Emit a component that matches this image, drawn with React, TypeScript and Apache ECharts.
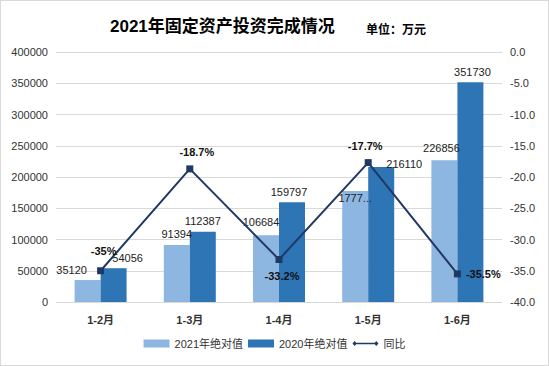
import React, { useEffect, useRef } from "react";
import * as echarts from "echarts";

const categories = ["1-2月", "1-3月", "1-4月", "1-5月", "1-6月"];
const values2021 = [35120, 91394, 106684, 177735, 226856];
const values2020 = [54056, 112387, 159797, 216110, 351730];
const yoy = [-35, -18.7, -33.2, -17.7, -35.5];
const yoyLabels = ["-35%", "-18.7%", "-33.2%", "-17.7%", "-35.5%"];
const leftTicks = [0, 400000, 50000];
const rightTicks = [-40, 0, 5];

const FONT = "'Liberation Sans', 'Noto Sans CJK SC', sans-serif";

export default function App() {
  const ref = useRef<HTMLDivElement>(null);
  useEffect(() => {
    if (!ref.current) return;
    const chart = echarts.init(ref.current, undefined, { renderer: "svg" });
    const off2021 = [[-16, 0], [0, 0], [-5, -3], [0, 18], [-3, -2]];
    const off2020 = [[14, 0], [0, 0], [-3, 0], [23, 8], [2, 0]];
    const lblPos: any[] = [
      { position: "top", offset: [3, -6] },
      { position: "top", offset: [7, -3] },
      { position: "bottom", offset: [3, 2] },
      { position: "top", offset: [-3, -3] },
      { position: "right", offset: [0, 0] },
    ];
    chart.setOption({
      animation: false,
      textStyle: { fontFamily: FONT },
      title: [
        {
          text: "2021年固定资产投资完成情况",
          left: 104,
          top: 12,
          textStyle: { fontSize: 17, fontWeight: "bold", color: "#000", fontFamily: FONT },
        },
        {
          text: "单位：万元",
          left: 360,
          top: 18,
          textStyle: { fontSize: 12, fontWeight: "bold", color: "#000", fontFamily: FONT },
        },
      ],
      grid: { left: 55, right: 46, top: 51, bottom: 63 },
      legend: {
        bottom: 11,
        left: "center",
        itemWidth: 26,
        itemHeight: 8,
        itemGap: 5,
        textStyle: { fontSize: 11, color: "#333", fontFamily: FONT },
        data: [
          { name: "2021年绝对值", icon: "rect" },
          { name: "2020年绝对值", icon: "rect" },
          {
            name: "同比",
            icon: "path://M0,4L3,0.5L6,4L3,7.5ZM3,2.8L33,2.8L33,5.2L3,5.2ZM30,4L33,0.5L36,4L33,7.5Z",
          },
        ],
      },
      xAxis: {
        type: "category",
        data: categories,
        axisLine: { show: false },
        axisTick: { show: false },
        axisLabel: { fontWeight: "bold", fontSize: 11, color: "#333", margin: 12 },
      },
      yAxis: [
        {
          type: "value",
          min: leftTicks[0],
          max: leftTicks[1],
          interval: leftTicks[2],
          axisLabel: { fontSize: 11, color: "#333", margin: 8, formatter: (v: number) => String(v) },
          splitLine: { lineStyle: { color: "#d9d9d9" } },
        },
        {
          type: "value",
          min: rightTicks[0],
          max: rightTicks[1],
          interval: rightTicks[2],
          position: "right",
          axisLabel: {
            fontSize: 11,
            color: "#333",
            margin: 8,
            formatter: (v: number) => v.toFixed(1),
          },
          splitLine: { show: false },
        },
      ],
      series: [
        {
          name: "2021年绝对值",
          type: "bar",
          barWidth: 26,
          barGap: "0%",
          itemStyle: { color: "#8db6e0" },
          data: values2021.map((v, i) => ({
            value: v,
            label: {
              show: true,
              position: "top",
              offset: off2021[i],
              fontSize: 11,
              color: "#222",
              formatter: i === 3 ? "1777..." : String(v),
            },
          })),
        },
        {
          name: "2020年绝对值",
          type: "bar",
          barWidth: 26,
          itemStyle: { color: "#2e75b6" },
          data: values2020.map((v, i) => ({
            value: v,
            label: {
              show: true,
              position: "top",
              offset: off2020[i],
              fontSize: 11,
              color: "#222",
            },
          })),
        },
        {
          name: "同比",
          type: "line",
          yAxisIndex: 1,
          symbol: "rect",
          symbolSize: 7,
          lineStyle: { color: "#203864", width: 2 },
          itemStyle: { color: "#203864" },
          data: yoy.map((v, i) => ({
            value: v,
            label: {
              show: true,
              ...lblPos[i],
              fontSize: 11,
              fontWeight: "bold",
              color: "#111",
              formatter: yoyLabels[i],
            },
          })),
        },
      ],
    });
    return () => chart.dispose();
  }, []);
  return (
    <div
      ref={ref}
      style={{
        position: "fixed",
        left: 0,
        top: 0,
        width: 549,
        height: 366,
        boxSizing: "border-box",
        border: "1px solid #d9d9d9",
        background: "#fff",
      }}
    />
  );
}
